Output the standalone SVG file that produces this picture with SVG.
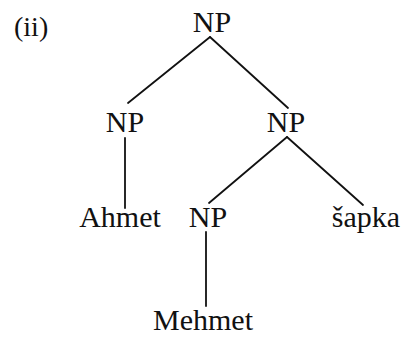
<svg xmlns="http://www.w3.org/2000/svg" width="403" height="337" viewBox="0 0 403 337">
<style>
text{font-family:'Liberation Serif','Times New Roman',Times,'DejaVu Serif',serif;font-size:30px;fill:#111;text-anchor:middle}
.lbl{font-size:28px;text-anchor:start}
line{stroke:#111;stroke-width:1.8;stroke-linecap:round}
</style>
<rect width="403" height="337" fill="#fff"/>
<text class="lbl" x="14" y="36">(ii)</text>
<g id="connectors">
<line x1="210" y1="37" x2="128" y2="103"/>
<line x1="210" y1="37" x2="288" y2="108"/>
<line x1="125" y1="138" x2="125" y2="208"/>
<line x1="287" y1="137" x2="209" y2="203"/>
<line x1="287" y1="137" x2="363" y2="205"/>
<line x1="206" y1="232" x2="206" y2="306"/>
</g>
<g id="np-root"><text x="212" y="32">NP</text></g>
<g id="np-left"><text x="125" y="132">NP</text></g>
<g id="np-right"><text x="286" y="132">NP</text></g>
<g id="ahmet"><text x="120" y="227">Ahmet</text></g>
<g id="np-lower"><text x="208" y="227">NP</text></g>
<g id="sapka"><text x="366" y="227">šapka</text></g>
<g id="mehmet"><text x="203" y="330">Mehmet</text></g>
</svg>
